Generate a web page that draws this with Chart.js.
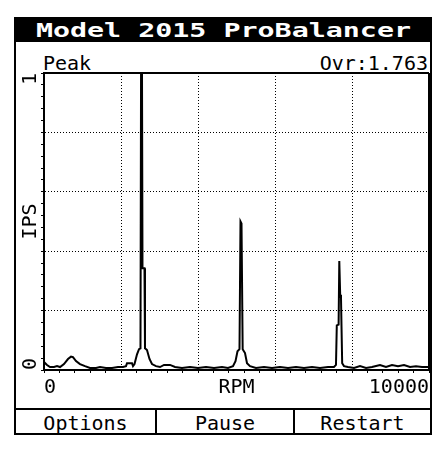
<!DOCTYPE html>
<html><head><meta charset="utf-8">
<script src="https://cdn.jsdelivr.net/npm/chart.js@4.4.0/dist/chart.umd.min.js"></script>
<style>
html,body{margin:0;padding:0;background:#fff;width:438px;height:450px;overflow:hidden;}
.t{position:absolute;font-family:"DejaVu Sans Mono",monospace;font-size:20px;line-height:20px;color:#000;white-space:nowrap;}
#frame{position:absolute;left:14px;top:17px;width:414px;height:414px;border:2px solid #000;}
#bar{position:absolute;left:0;top:0;width:414px;height:23px;background:#000;}
#title{position:absolute;left:0;top:0;width:414px;height:23px;line-height:23px;text-align:center;color:#fff;font-weight:bold;font-family:"DejaVu Sans Mono",monospace;font-size:20px;}
#title span{display:inline-block;transform:scaleX(1.416);}
.hl{position:absolute;background:#000;}
#c{position:absolute;left:0;top:0;z-index:2;}
</style></head>
<body>
<div id="frame"><div id="bar"></div><div id="title"><span>Model 2015 ProBalancer</span></div></div>
<div class="t" style="left:43px;top:53px;">Peak</div>
<div class="t" style="right:10px;top:53px;">Ovr:1.763</div>
<div class="hl" style="left:14px;top:408px;width:418px;height:2px;"></div>
<div class="hl" style="left:155px;top:408px;width:2px;height:27px;"></div>
<div class="hl" style="left:293px;top:408px;width:2px;height:27px;"></div>
<div class="t" style="left:16px;width:139px;text-align:center;top:413px;">Options</div>
<div class="t" style="left:157px;width:136px;text-align:center;top:413px;">Pause</div>
<div class="t" style="left:295px;width:135px;text-align:center;top:413px;">Restart</div>
<canvas id="c" width="438" height="450"></canvas>
<script>
// Spectrum data
const rpm = [0,78,156,260,338,416,519,623,701,753,831,935,1065,1195,1351,1455,1610,1766,1922,2052,
  2130,2156,2286,2312,2351,2416,2468,2506,2532,2558,2610,2623,2675,2740,2805,2909,3013,3117,3273,3403,
  3584,3792,4000,4208,4416,4623,4779,4909,4974,5026,5078,5104,5130,5160,5221,5273,5351,5506,5714,5922,
  6130,6338,6545,6753,6961,7169,7377,7532,7584,7605,7652,7670,7693,7714,7727,7745,7792,7896,8052,8208,
  8364,8519,8727,8883,9039,9195,9351,9506,9662,9818,10000];
const ips = [0.027,0.017,0.010,0.010,0.013,0.010,0.020,0.037,0.045,0.043,0.030,0.020,0.013,0.007,0.007,0.010,0.007,0.007,0.010,0.010,
  0.013,0.023,0.023,0.013,0.020,0.053,0.070,0.073,1.70,0.343,0.343,0.073,0.067,0.037,0.020,0.013,0.010,0.017,0.017,0.010,
  0.007,0.010,0.007,0.010,0.007,0.010,0.007,0.013,0.030,0.063,0.070,0.500,0.493,0.070,0.057,0.023,0.013,0.007,0.010,0.007,
  0.010,0.007,0.010,0.007,0.010,0.007,0.010,0.010,0.017,0.150,0.153,0.367,0.253,0.243,0.150,0.023,0.013,0.010,0.007,0.013,
  0.007,0.010,0.017,0.010,0.017,0.013,0.017,0.010,0.013,0.010,0.010];
// Axes
const xMin = 0, xMax = 10000, xMinorStep = 400, xMajor = [2000,4000,6000,8000];
const xLabelValues = [0, 5000, 10000];
const xLabelTexts = ['0', 'RPM', '10000'];
const yMin = 0, yMax = 1, yMinorStep = 0.04, yMajor = [0.2,0.4,0.6,0.8];
const yLabelValues = [1, 0];
const yLabelTexts = ['1', '0'];
const yTitle = 'IPS';

const FONT = '"DejaVu Sans Mono", monospace';
const near = (a, b) => Math.abs(a - b) < 1e-6;

const frameBox = {
  id: 'frameBox',
  afterDatasetsDraw(chart) {
    const {ctx, chartArea: a} = chart;
    ctx.save();
    ctx.strokeStyle = '#000';
    ctx.lineWidth = 2;
    ctx.beginPath();
    ctx.moveTo(a.left, a.top);
    ctx.lineTo(a.right, a.top);
    ctx.stroke();
    ctx.beginPath();
    ctx.moveTo(a.right, a.top);
    ctx.lineTo(a.right, a.bottom);
    ctx.stroke();
    // rotated y labels
    const ys = chart.scales.y;
    ctx.fillStyle = '#000';
    ctx.font = '20px ' + FONT;
    ctx.textBaseline = 'middle';
    const lx = a.left - 13;
    yLabelValues.forEach((v, i) => {
      const py = ys.getPixelForValue(v);
      ctx.save();
      ctx.translate(lx, py);
      ctx.rotate(-Math.PI / 2);
      ctx.textAlign = (v === yMax) ? 'right' : 'left';
      ctx.fillText(yLabelTexts[i], 0, 0);
      ctx.restore();
    });
    ctx.save();
    ctx.translate(lx, (ys.top + ys.bottom) / 2);
    ctx.rotate(-Math.PI / 2);
    ctx.textAlign = 'center';
    ctx.fillText(yTitle, 0, 0);
    ctx.restore();
    ctx.restore();
  }
};

new Chart(document.getElementById('c'), {
  type: 'line',
  data: {
    datasets: [{
      data: rpm.map((r, i) => ({x: r, y: ips[i]})),
      borderColor: '#000',
      borderWidth: 2,
      pointRadius: 0,
      tension: 0,
      fill: false
    }]
  },
  options: {
    responsive: false,
    devicePixelRatio: 1,
    animation: false,
    layout: {padding: {left: 41, top: 73, right: 9, bottom: 47}},
    plugins: {legend: {display: false}, tooltip: {enabled: false}},
    scales: {
      x: {
        type: 'linear', min: xMin, max: xMax,
        afterBuildTicks(s) {
          const t = [];
          for (let v = xMin; v <= xMax; v += xMinorStep) t.push({value: v});
          xLabelValues.forEach(v => { if (!t.some(k => k.value === v)) t.push({value: v}); });
          t.sort((p, q) => p.value - q.value);
          s.ticks = t;
        },
        ticks: {
          autoSkip: false, maxRotation: 0, minRotation: 0, align: 'inner', padding: 3,
          color: '#000', font: {family: FONT, size: 20},
          callback: (v) => { const i = xLabelValues.indexOf(v); return i >= 0 ? xLabelTexts[i] : ''; }
        },
        grid: {
          drawTicks: true, tickLength: 3, lineWidth: 1,
          color: (c) => (c.tick && xMajor.includes(c.tick.value)) ? '#000' : 'rgba(0,0,0,0)',
          tickColor: (c) => (c.tick && xLabelValues.includes(c.tick.value) && c.tick.value % xMinorStep !== 0) ? 'rgba(0,0,0,0)' : '#000',
          tickBorderDash: []
        },
        border: {display: true, color: '#000', width: 2, dash: [1, 2]}
      },
      y: {
        type: 'linear', min: yMin, max: yMax,
        afterBuildTicks(s) {
          const t = [];
          for (let k = 0; k <= Math.round((yMax - yMin) / yMinorStep); k++) t.push({value: +(yMin + k * yMinorStep).toFixed(4)});
          s.ticks = t;
        },
        ticks: {display: false},
        grid: {
          drawTicks: true, tickLength: 3, lineWidth: 1,
          color: (c) => (c.tick && yMajor.some(m => near(m, c.tick.value))) ? '#000' : 'rgba(0,0,0,0)',
          tickColor: '#000',
          tickBorderDash: []
        },
        border: {display: true, color: '#000', width: 2, dash: [1, 2]}
      }
    }
  },
  plugins: [frameBox]
});
</script>
</body></html>
